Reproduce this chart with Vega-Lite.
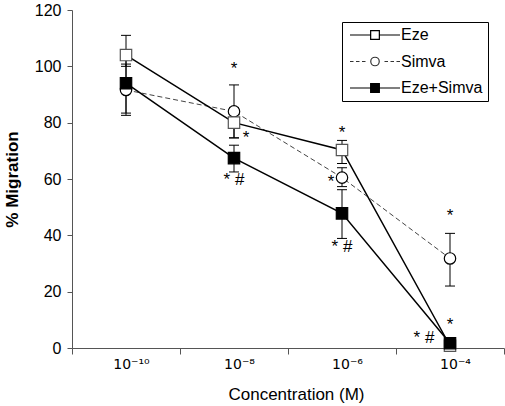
{
  "$schema": "https://vega.github.io/schema/vega-lite/v6.json",
  "width": 432,
  "height": 338,
  "autosize": {"type": "none"},
  "padding": {"left": 72, "top": 10, "right": 1, "bottom": 58},
  "background": "white",
  "config": {
    "view": {"stroke": null},
    "font": "Liberation Sans",
    "axis": {"grid": false, "labelColor": "black", "titleColor": "black", "titleFont": "Liberation Sans"},
    "axisY": {"tickCount": 6, "domainColor": "#555", "tickColor": "#555", "tickSize": 5, "labelFont": "Liberation Sans", "labelFontSize": 16, "labelPadding": 6, "titleFontSize": 17, "titleFontWeight": "bold", "titlePadding": 13}
  },
  "datasets": {
    "pts": [
      {"series": "Simva", "conc": "10⁻¹⁰", "value": 91.6, "lo": 82.6, "hi": 100.8},
      {"series": "Simva", "conc": "10⁻⁸", "value": 84, "lo": 74.6, "hi": 93.4},
      {"series": "Simva", "conc": "10⁻⁶", "value": 60.5, "lo": 57.3, "hi": 64},
      {"series": "Simva", "conc": "10⁻⁴", "value": 31.8, "lo": 22, "hi": 40.7},
      {"series": "Eze", "conc": "10⁻¹⁰", "value": 104, "lo": 100, "hi": 111},
      {"series": "Eze", "conc": "10⁻⁸", "value": 80, "lo": 74.6, "hi": 85.4},
      {"series": "Eze", "conc": "10⁻⁶", "value": 70.3, "lo": 65.5, "hi": 73.7},
      {"series": "Eze", "conc": "10⁻⁴", "value": 0.8, "lo": null, "hi": null},
      {"series": "Eze+Simva", "conc": "10⁻¹⁰", "value": 94, "lo": 83.4, "hi": 105},
      {"series": "Eze+Simva", "conc": "10⁻⁸", "value": 67.4, "lo": 62.5, "hi": 72},
      {"series": "Eze+Simva", "conc": "10⁻⁶", "value": 47.8, "lo": 38.9, "hi": 56.2},
      {"series": "Eze+Simva", "conc": "10⁻⁴", "value": 1.7, "lo": null, "hi": null}
    ],
    "starsCenter": [
      {"conc": "10⁻⁸", "y": 99, "text": "*"},
      {"conc": "10⁻⁸", "y": 59.5, "text": "* #"},
      {"conc": "10⁻⁶", "y": 76.5, "text": "*"},
      {"conc": "10⁻⁶", "y": 36, "text": "* #"},
      {"conc": "10⁻⁴", "y": 46.7, "text": "*"},
      {"conc": "10⁻⁴", "y": 8.2, "text": "*"}
    ],
    "starsRight": [
      {"conc": "10⁻⁸", "y": 74.5, "text": "*"}
    ],
    "starsLeft": [
      {"conc": "10⁻⁶", "y": 59, "text": "*"}
    ],
    "starsFarLeft": [
      {"conc": "10⁻⁴", "y": 3.4, "text": "* #"}
    ]
  },
  "encoding": {
    "x": {
      "field": "conc",
      "type": "nominal",
      "sort": ["10⁻¹⁰", "10⁻⁸", "10⁻⁶", "10⁻⁴"],
      "scale": {"type": "band", "domain": ["10⁻¹⁰", "10⁻⁸", "10⁻⁶", "10⁻⁴"], "paddingInner": 0, "paddingOuter": 0},
      "axis": {"title": "Concentration (M)", "tickBand": "extent", "labelAngle": 0, "domainColor": "#555", "tickColor": "#555", "tickSize": 6, "labelFont": "DejaVu Sans", "labelFontSize": 14, "labelPadding": 3, "labelOffset": 5, "titleFontSize": 17, "titleFontWeight": "normal", "titlePadding": 15, "titleX": 224}
    }
  },
  "layer": [
    {
      "data": {"name": "pts"},
      "transform": [{"filter": "datum.series === 'Simva'"}],
      "mark": {"type": "line", "stroke": "#444", "strokeWidth": 1, "strokeDash": [5, 3]},
      "encoding": {"y": {"field": "value", "type": "quantitative", "scale": {"domain": [0, 120]}, "title": "% Migration"}}
    },
    {
      "data": {"name": "pts"},
      "transform": [{"filter": "datum.series === 'Eze'"}],
      "mark": {"type": "line", "stroke": "black", "strokeWidth": 1.5},
      "encoding": {"y": {"field": "value", "type": "quantitative", "scale": {"domain": [0, 120]}, "title": "% Migration"}}
    },
    {
      "data": {"name": "pts"},
      "transform": [{"filter": "datum.series === 'Eze+Simva'"}],
      "mark": {"type": "line", "stroke": "black", "strokeWidth": 1.5},
      "encoding": {"y": {"field": "value", "type": "quantitative", "scale": {"domain": [0, 120]}, "title": "% Migration"}}
    },
    {
      "data": {"name": "pts"},
      "transform": [{"filter": "isValid(datum.lo)"}],
      "mark": {"type": "rule", "color": "black", "strokeWidth": 1},
      "encoding": {
        "y": {"field": "lo", "type": "quantitative", "scale": {"domain": [0, 120]}, "title": "% Migration"},
        "y2": {"field": "hi"}
      }
    },
    {
      "data": {"name": "pts"},
      "transform": [{"filter": "isValid(datum.lo)"}],
      "mark": {"type": "tick", "color": "black", "size": 10, "thickness": 1, "opacity": 1, "orient": "horizontal"},
      "encoding": {"y": {"field": "lo", "type": "quantitative", "scale": {"domain": [0, 120]}, "title": "% Migration"}}
    },
    {
      "data": {"name": "pts"},
      "transform": [{"filter": "isValid(datum.hi)"}],
      "mark": {"type": "tick", "color": "black", "size": 10, "thickness": 1, "opacity": 1, "orient": "horizontal"},
      "encoding": {"y": {"field": "hi", "type": "quantitative", "scale": {"domain": [0, 120]}, "title": "% Migration"}}
    },
    {
      "data": {"name": "pts"},
      "mark": {"type": "point", "size": 130, "strokeWidth": 1.2, "opacity": 1},
      "encoding": {
        "y": {"field": "value", "type": "quantitative", "scale": {"domain": [0, 120]}, "title": "% Migration"},
        "shape": {"condition": {"test": "datum.series === 'Simva'", "value": "circle"}, "value": "square"},
        "fill": {"condition": {"test": "datum.series === 'Eze+Simva'", "value": "black"}, "value": "white"},
        "stroke": {"condition": {"test": "datum.series === 'Eze'", "value": "#555"}, "value": "black"}
      }
    },
    {
      "data": {"name": "pts"},
      "mark": {"type": "point", "opacity": 1, "size": 0, "strokeWidth": 1.2},
      "encoding": {
        "y": {"field": "value", "type": "quantitative", "scale": {"domain": [0, 120]}, "title": "% Migration"},
        "shape": {
          "field": "series", "type": "nominal", "title": null,
          "scale": {
            "domain": ["Eze", "Simva", "Eze+Simva"],
            "range": [
              "M-5,0H-0.87M0.87,0H5M-0.87,-0.87H0.87V0.87H-0.87Z",
              "M-5,0H-4.3M-3.8,0H-3.1M-2.6,0H-1.9M1.9,0H2.6M3.1,0H3.8M4.3,0H5M-0.85,0A0.85,0.85,0,1,0,0.85,0A0.85,0.85,0,1,0,-0.85,0Z",
              "M-5,0H-0.87M0.87,0H5M-0.87,-0.87H0.87V0.87H-0.87Z"
            ]
          },
          "legend": {
            "orient": "none", "legendX": 270, "legendY": 12, "title": null,
            "padding": 5, "strokeColor": "black", "fillColor": "white",
            "symbolSize": 100, "symbolOffset": 20, "labelOffset": 18, "symbolOpacity": 1,
            "labelFontSize": 16, "labelFont": "Liberation Sans", "labelColor": "black",
            "rowPadding": 10.5, "symbolStrokeWidth": 1.2
          }
        },
        "fill": {
          "field": "series", "type": "nominal", "title": null,
          "scale": {"domain": ["Eze", "Simva", "Eze+Simva"], "range": ["white", "white", "black"]}
        },
        "stroke": {
          "field": "series", "type": "nominal", "title": null,
          "scale": {"domain": ["Eze", "Simva", "Eze+Simva"], "range": ["black", "#333", "black"]}
        }
      }
    },
    {
      "data": {"name": "starsCenter"},
      "mark": {"type": "text", "fontSize": 17, "baseline": "middle", "align": "center", "color": "black"},
      "encoding": {"y": {"field": "y", "type": "quantitative", "scale": {"domain": [0, 120]}, "title": "% Migration"}, "text": {"field": "text"}}
    },
    {
      "data": {"name": "starsRight"},
      "mark": {"type": "text", "fontSize": 17, "baseline": "middle", "align": "center", "color": "black", "dx": 12},
      "encoding": {"y": {"field": "y", "type": "quantitative", "scale": {"domain": [0, 120]}, "title": "% Migration"}, "text": {"field": "text"}}
    },
    {
      "data": {"name": "starsLeft"},
      "mark": {"type": "text", "fontSize": 17, "baseline": "middle", "align": "center", "color": "black", "dx": -11},
      "encoding": {"y": {"field": "y", "type": "quantitative", "scale": {"domain": [0, 120]}, "title": "% Migration"}, "text": {"field": "text"}}
    },
    {
      "data": {"name": "starsFarLeft"},
      "mark": {"type": "text", "fontSize": 17, "baseline": "middle", "align": "center", "color": "black", "dx": -26},
      "encoding": {"y": {"field": "y", "type": "quantitative", "scale": {"domain": [0, 120]}, "title": "% Migration"}, "text": {"field": "text"}}
    }
  ]
}
